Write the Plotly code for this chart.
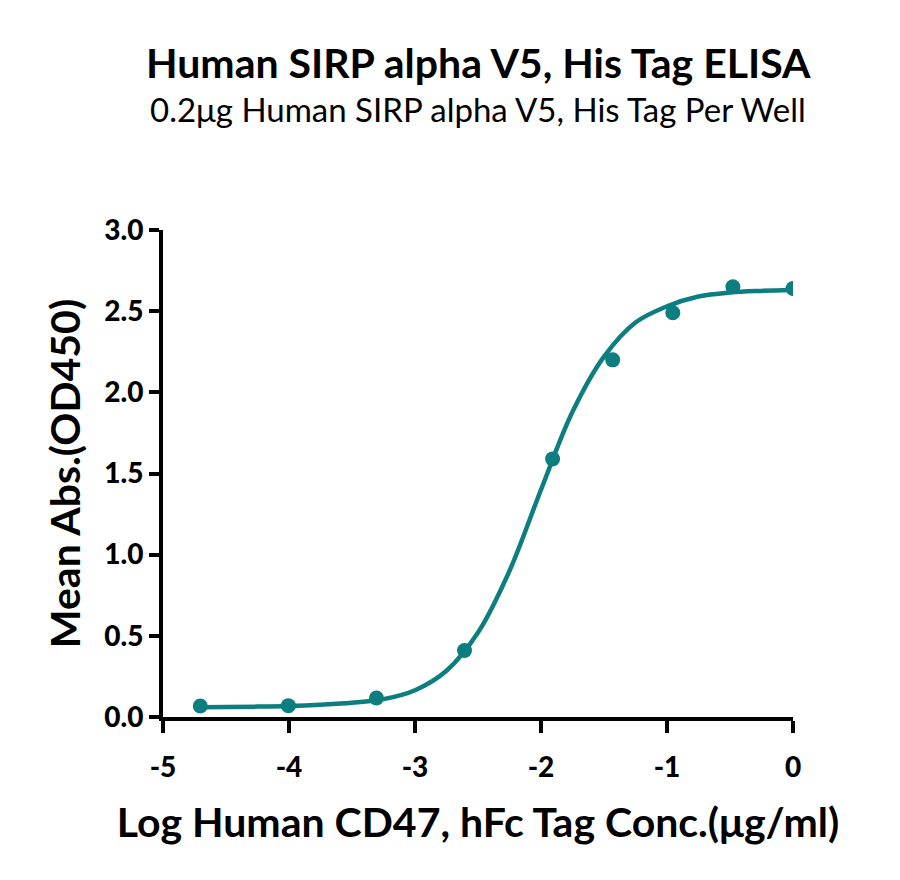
import plotly.graph_objects as go

# measured points (log conc, OD450)
log_conc = [-4.704, -4.005, -3.306, -2.607, -1.908, -1.431, -0.954, -0.477, 0.0]
mean_abs = [0.068, 0.070, 0.117, 0.41, 1.59, 2.20, 2.49, 2.65, 2.64]

# fitted curve
fit_x = [-4.70, -4.25, -4.00, -3.75, -3.50, -3.25, -3.00, -2.75, -2.50, -2.25,
         -2.00, -1.75, -1.50, -1.25, -1.00, -0.75, -0.50, -0.25, 0.00]
fit_y = [0.060, 0.064, 0.068, 0.076, 0.088, 0.11, 0.165, 0.285, 0.52, 0.90,
         1.40, 1.88, 2.22, 2.43, 2.53, 2.59, 2.615, 2.625, 2.63]

x_ticks = [-5, -4, -3, -2, -1, 0]
y_ticks = [0.0, 0.5, 1.0, 1.5, 2.0, 2.5, 3.0]

teal = "#0c7e7f"
font_family = "Lato"

fig = go.Figure()

fig.add_trace(go.Scatter(x=fit_x, y=fit_y, mode="lines",
                         line=dict(color=teal, width=4.5, shape="spline"),
                         hoverinfo="skip", showlegend=False))
fig.add_trace(go.Scatter(x=log_conc, y=mean_abs, mode="markers",
                         marker=dict(color=teal, size=15),
                         showlegend=False))

fig.update_layout(
    width=900, height=880,
    paper_bgcolor="white", plot_bgcolor="white",
    margin=dict(l=155, r=115, t=222, b=171),
    font=dict(family=font_family, color="black"),
    annotations=[
        dict(text="<b>Human SIRP alpha V5, His Tag ELISA</b>", xref="paper", yref="paper",
             x=0.5, y=1, yanchor="middle", yshift=168, showarrow=False,
             font=dict(size=41, family=font_family)),
        dict(text="0.2μg Human SIRP alpha V5, His Tag Per Well", xref="paper", yref="paper",
             x=0.5, y=1, yanchor="middle", yshift=121, showarrow=False,
             font=dict(size=33, family=font_family)),
    ],
)

fig.update_xaxes(
    range=[-5, 0], tickvals=x_ticks, ticktext=[str(v) for v in x_ticks],
    showgrid=False, zeroline=False,
    showline=True, linecolor="black", linewidth=4,
    ticks="outside", ticklen=12, tickwidth=4, tickcolor="black",
    ticklabelstandoff=10,
    tickfont=dict(size=28, family=font_family, weight=900),
    title=dict(text="<b>Log Human CD47, hFc Tag Conc.(μg/ml)</b>",
               font=dict(size=41, family=font_family), standoff=28),
)
fig.update_yaxes(
    range=[0, 3], tickvals=y_ticks, ticktext=["%.1f" % v for v in y_ticks],
    showgrid=False, zeroline=False,
    showline=True, linecolor="black", linewidth=4,
    ticks="outside", ticklen=10, tickwidth=4, tickcolor="black",
    tickfont=dict(size=28, family=font_family, weight=900),
    title=dict(text="<b>Mean Abs.(OD450)</b>",
               font=dict(size=41, family=font_family), standoff=12),
)

fig.write_html("out.html")
